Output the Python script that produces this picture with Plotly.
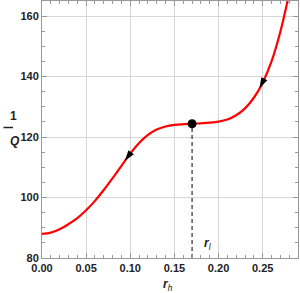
import plotly.graph_objects as go

# curve data
rh = [0.00, 0.01, 0.02, 0.03, 0.04, 0.05, 0.06, 0.07, 0.08, 0.09,
      0.10, 0.11, 0.12, 0.13, 0.14, 0.15, 0.16, 0.17, 0.18, 0.19,
      0.20, 0.21, 0.22, 0.23, 0.24, 0.25, 0.26, 0.27, 0.28]
invQ = [88.0, 88.4, 89.5, 91.2, 93.2, 95.8, 98.9, 102.5, 106.4, 110.5,
        114.5, 118.0, 120.7, 122.5, 123.5, 124.0, 124.25, 124.4, 124.55, 124.75,
        125.1, 125.8, 127.2, 129.5, 133.0, 138.0, 145.0, 154.8, 167.5]

# arrows on the curve
arrow_x = [0.094, 0.2465]
arrow_y = [112.2, 136.2]
arrow_angle = [216, 207]

# special point r_l
rl_x = [0.170]
rl_y = [124.4]
dash_x = [0.170, 0.170]
dash_y = [80, 124.4]

xticks = [0.00, 0.05, 0.10, 0.15, 0.20, 0.25]
xticklabels = ["0.00", "0.05", "0.10", "0.15", "0.20", "0.25"]
yticks = [80, 100, 120, 140, 160]

FONT = "Liberation Sans"

fig = go.Figure()
fig.add_trace(go.Scatter(x=dash_x, y=dash_y, mode="lines",
                         line=dict(color="black", width=1, dash="4px,3px"),
                         hoverinfo="skip", showlegend=False))
fig.add_trace(go.Scatter(x=rh, y=invQ, mode="lines",
                         line=dict(color="#ff0000", width=2.2, shape="spline", smoothing=1.0),
                         showlegend=False))
fig.add_trace(go.Scatter(x=arrow_x, y=arrow_y, mode="markers",
                         marker=dict(symbol="arrow", size=11, angle=arrow_angle, color="black",
                                     line=dict(width=0)),
                         showlegend=False))
fig.add_trace(go.Scatter(x=rl_x, y=rl_y, mode="markers",
                         marker=dict(symbol="circle", size=9, color="black"),
                         showlegend=False))

axis_common = dict(
    showline=True, linecolor="#999999", linewidth=1, mirror="ticks",
    ticks="inside", ticklen=5, tickcolor="#999999",
    showgrid=True, gridcolor="#d6d6d6", gridwidth=1,
    zeroline=False,
    tickfont=dict(family=FONT, size=11, color="#222222", weight="bold"),
)

fig.update_xaxes(range=[0, 0.29], tickvals=xticks, ticktext=xticklabels,
                 minor=dict(ticks="inside", ticklen=3, dtick=0.01, tick0=0,
                            tickcolor="#999999", showgrid=False),
                 **axis_common)
fig.update_yaxes(range=[80, 165], tickvals=yticks,
                 minor=dict(ticks="inside", ticklen=3, dtick=5, tick0=80,
                            tickcolor="#999999", showgrid=False),
                 **axis_common)

ann_font = dict(family=FONT, size=12, color="#222222")
fig.add_annotation(x=0.188, y=84.6, xref="x", yref="y",
                   text="<b><i>r</i></b><sub><i>l</i></sub>", showarrow=False, font=ann_font)
fig.add_annotation(x=(168 - 42) / 256, y=(258 - 284.5) / 257, xref="paper", yref="paper",
                   yanchor="middle",
                   text="<b><i>r</i></b><sub><i>h</i></sub>", showarrow=False, font=ann_font)
fig.add_annotation(x=(8 - 42) / 256, y=(258 - 116) / 257, xref="paper", yref="paper",
                   text="<b>1</b>", showarrow=False, font=ann_font)
fig.add_annotation(x=(8 - 42) / 256, y=(258 - 141) / 257, xref="paper", yref="paper",
                   text="<b><i>Q</i></b>", showarrow=False, font=ann_font)
fig.add_shape(type="line", xref="paper", yref="paper",
              x0=(3.5 - 42) / 256, x1=(13 - 42) / 256,
              y0=(258 - 127.5) / 257, y1=(258 - 127.5) / 257,
              line=dict(color="#222222", width=1.5))

fig.update_layout(width=300, height=293,
                  margin=dict(l=42, r=2, t=1, b=35),
                  plot_bgcolor="white", paper_bgcolor="white",
                  showlegend=False)

fig.write_html("out.html", config={"displayModeBar": False},
               post_script="document.body.style.margin='0';document.body.style.padding='0';")
